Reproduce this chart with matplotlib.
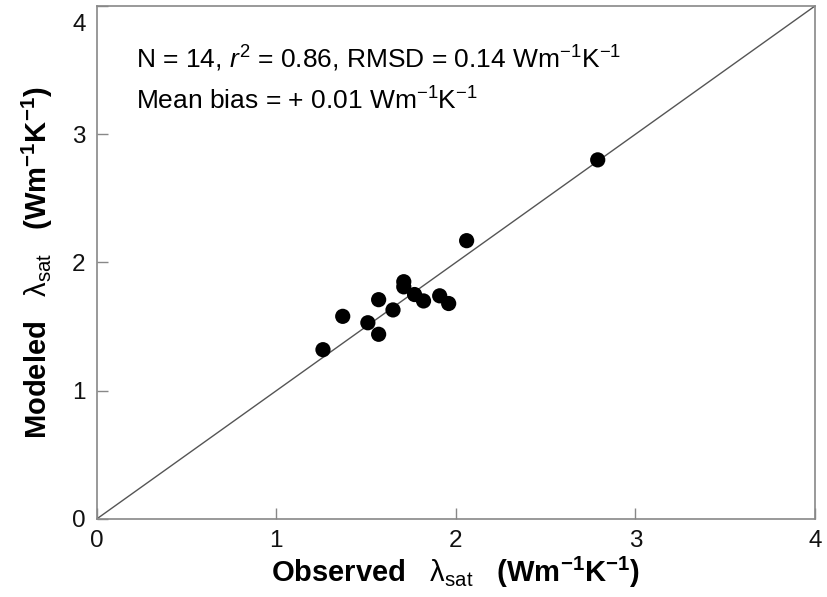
import numpy as np
import matplotlib
matplotlib.use("Agg")
import matplotlib.pyplot as plt
import matplotlib.transforms as mtransforms

plt.rcParams["font.family"] = ["Liberation Sans", "DejaVu Sans"]
plt.rcParams["mathtext.fontset"] = "custom"
plt.rcParams["mathtext.rm"] = "Liberation Sans"
plt.rcParams["mathtext.it"] = "Liberation Sans:italic"
plt.rcParams["mathtext.bf"] = "Liberation Sans:bold"

# observed vs modeled lambda_sat (Wm-1K-1)
observed = [1.26, 1.37, 1.51, 1.57, 1.57, 1.65, 1.71, 1.71, 1.77, 1.82, 1.91, 1.96, 2.06, 2.79]
modeled = [1.32, 1.58, 1.53, 1.44, 1.71, 1.63, 1.85, 1.81, 1.75, 1.70, 1.74, 1.68, 2.17, 2.80]
one_to_one = [0, 4]
ticks = [0, 1, 2, 3, 4]

fig = plt.figure(figsize=(8.28, 5.97), dpi=100)
ax = fig.add_axes([0.1168, 0.1307, 0.8675, 0.8593])

ax.plot(one_to_one, one_to_one, color="#555555", linewidth=1.0, zorder=1)
ax.scatter(observed, modeled, s=120, color="black", edgecolors="none", zorder=2)

ax.set_xlim(0, 4)
ax.set_ylim(0, 4)
ax.set_xticks(ticks)
ax.set_yticks(ticks)
ax.tick_params(direction="in", length=8, width=1, color="#888888",
               labelsize=17.5, labelcolor="#111111")
ax.tick_params(axis="x", pad=8)
ax.tick_params(axis="y", pad=8)
for s in ax.spines.values():
    s.set_color("#888888")
    s.set_linewidth(1.2)

# top y label sits a bit lower so it stays inside the figure
fig.canvas.draw()
top_lab = ax.get_yticklabels()[-1]
top_lab.set_transform(top_lab.get_transform() +
                      mtransforms.ScaledTranslation(0, -12 / 72, fig.dpi_scale_trans))

label_tail = r"   $\mathrm{\lambda}_{\mathrm{sat}}$   (Wm$^{\mathbf{-1}}$K$^{\mathbf{-1}}$)"
ax.set_xlabel("Observed" + label_tail, fontsize=21, fontweight="bold", labelpad=2)
ax.set_ylabel("Modeled" + label_tail, fontsize=21, fontweight="bold", labelpad=12)

ax.text(0.22, 3.517, r"N = 14, $r^2$ = 0.86, RMSD = 0.14 Wm$^{-1}$K$^{-1}$",
        fontsize=19, ha="left", va="baseline")
ax.text(0.22, 3.19, r"Mean bias = + 0.01 Wm$^{-1}$K$^{-1}$",
        fontsize=19, ha="left", va="baseline")

fig.savefig("out.png", dpi=100)
